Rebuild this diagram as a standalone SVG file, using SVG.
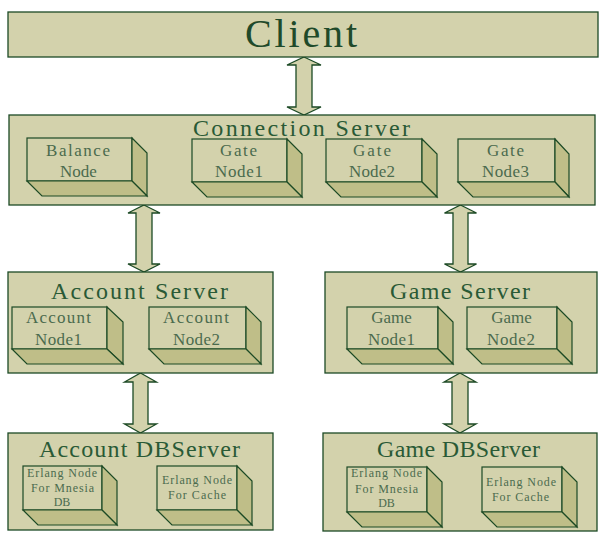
<svg xmlns="http://www.w3.org/2000/svg" width="607" height="547" viewBox="0 0 607 547">
<style>
.box{fill:#d3d2ac;stroke:#1c4a25;stroke-width:1.3}
.front{fill:#d3d2ac;stroke:#1c4a25;stroke-width:1.2}
.dark{fill:#bfbe88;stroke:#1c4a25;stroke-width:1.2;stroke-linejoin:miter}
.arrow{fill:#d3d2ac;stroke:#1c4a25;stroke-width:1.3}
text{font-family:"Liberation Serif","DejaVu Serif",serif;text-anchor:middle}
.big{font-size:40px;fill:#1f4a2a}
.title{font-size:24px;fill:#2a5a36}
.lbl{font-size:17px;fill:#4b6b4e}
.sm{font-size:12px;fill:#4b6b4e}
</style>
<rect width="607" height="547" fill="#ffffff"/>

<g id="connectors">
<polygon class="arrow" points="304,57 321,65 312,65 312,107 321,107 304,115 287,107 296,107 296,65 287,65"/>
<polygon class="arrow" points="144,205 160,213 152,213 152,264 160,264 144,272 128,264 136,264 136,213 128,213"/>
<polygon class="arrow" points="460.5,205 476.5,213 468,213 468,264 476.5,264 460.5,272 444.5,264 453,264 453,213 444.5,213"/>
<polygon class="arrow" points="140.5,373 156.5,382 148,382 148,424 156.5,424 140.5,433 124.5,424 133,424 133,382 124.5,382"/>
<polygon class="arrow" points="460,373 476,382 468,382 468,424 476,424 460,433 444,424 452,424 452,382 444,382"/>
</g>

<g id="client">
<rect class="box" x="8" y="12" width="590" height="45"/>
<text class="big" x="301" y="47" textLength="112" lengthAdjust="spacing">Client</text>
</g>

<g id="connection-server">
<rect class="box" x="9" y="115" width="586" height="90"/>
<text class="title" x="301.5" y="136" textLength="217" lengthAdjust="spacing">Connection Server</text>
</g>

<g id="balance-node">
<rect class="front" x="27" y="138" width="105" height="43"/>
<polygon class="dark" points="132,138 147,153 147,196 132,181"/>
<polygon class="dark" points="27,181 132,181 147,196 42,196"/>
<text class="lbl" x="78" y="156" textLength="64" lengthAdjust="spacing">Balance</text>
<text class="lbl" x="78.5" y="177">Node</text>
</g>

<g id="gate-node1">
<rect class="front" x="192" y="139" width="95" height="43"/>
<polygon class="dark" points="287,139 302,154 302,197 287,182"/>
<polygon class="dark" points="192,182 287,182 302,197 207,197"/>
<text class="lbl" x="238.5" y="156" textLength="37" lengthAdjust="spacing">Gate</text>
<text class="lbl" x="239" y="177" textLength="48" lengthAdjust="spacing">Node1</text>
</g>

<g id="gate-node2">
<rect class="front" x="326" y="139" width="96" height="43"/>
<polygon class="dark" points="422,139 437,154 437,197 422,182"/>
<polygon class="dark" points="326,182 422,182 437,197 341,197"/>
<text class="lbl" x="372" y="156" textLength="38" lengthAdjust="spacing">Gate</text>
<text class="lbl" x="372" y="177" textLength="46" lengthAdjust="spacing">Node2</text>
</g>

<g id="gate-node3">
<rect class="front" x="458" y="139" width="97" height="43"/>
<polygon class="dark" points="555,139 569,154 569,197 555,182"/>
<polygon class="dark" points="458,182 555,182 569,197 473,197"/>
<text class="lbl" x="505.5" y="156" textLength="37" lengthAdjust="spacing">Gate</text>
<text class="lbl" x="505.5" y="177" textLength="47" lengthAdjust="spacing">Node3</text>
</g>

<g id="account-server">
<rect class="box" x="8" y="272" width="265" height="101"/>
<text class="title" x="139.5" y="299" textLength="177" lengthAdjust="spacing">Account Server</text>
</g>

<g id="account-node1">
<rect class="front" x="12" y="307" width="95" height="42"/>
<polygon class="dark" points="107,307 123,322 123,364 107,349"/>
<polygon class="dark" points="12,349 107,349 123,364 27,364"/>
<text class="lbl" x="58.5" y="323" textLength="65" lengthAdjust="spacing">Account</text>
<text class="lbl" x="58.5" y="345" textLength="47" lengthAdjust="spacing">Node1</text>
</g>

<g id="account-node2">
<rect class="front" x="149" y="307" width="97" height="42"/>
<polygon class="dark" points="246,307 261,322 261,364 246,349"/>
<polygon class="dark" points="149,349 246,349 261,364 164,364"/>
<text class="lbl" x="196" y="323" textLength="66" lengthAdjust="spacing">Account</text>
<text class="lbl" x="196.5" y="345" textLength="47" lengthAdjust="spacing">Node2</text>
</g>

<g id="game-server">
<rect class="box" x="325" y="272" width="272" height="101"/>
<text class="title" x="460" y="299" textLength="140" lengthAdjust="spacing">Game Server</text>
</g>

<g id="game-node1">
<rect class="front" x="347" y="307" width="91" height="42"/>
<polygon class="dark" points="438,307 453,322 453,364 438,349"/>
<polygon class="dark" points="347,349 438,349 453,364 362,364"/>
<text class="lbl" x="391.5" y="323">Game</text>
<text class="lbl" x="391.5" y="345" textLength="47" lengthAdjust="spacing">Node1</text>
</g>

<g id="game-node2">
<rect class="front" x="467" y="307" width="90" height="42"/>
<polygon class="dark" points="557,307 572,322 572,364 557,349"/>
<polygon class="dark" points="467,349 557,349 572,364 482,364"/>
<text class="lbl" x="511.5" y="323">Game</text>
<text class="lbl" x="511" y="345" textLength="48" lengthAdjust="spacing">Node2</text>
</g>

<g id="account-dbserver">
<rect class="box" x="8" y="433" width="265" height="97"/>
<text class="title" x="139.5" y="457" textLength="201" lengthAdjust="spacing">Account DBServer</text>
</g>

<g id="account-mnesia-node">
<rect class="front" x="23" y="466" width="79" height="44"/>
<polygon class="dark" points="102,466 117,481 117,525 102,510"/>
<polygon class="dark" points="23,510 102,510 117,525 38,525"/>
<text class="sm" x="62" y="477" textLength="70" lengthAdjust="spacing">Erlang Node</text>
<text class="sm" x="62.5" y="492" textLength="63" lengthAdjust="spacing">For Mnesia</text>
<text class="sm" x="62" y="506">DB</text>
</g>

<g id="account-cache-node">
<rect class="front" x="157" y="466" width="80" height="44"/>
<polygon class="dark" points="237,466 252,481 252,525 237,510"/>
<polygon class="dark" points="157,510 237,510 252,525 172,525"/>
<text class="sm" x="197" y="484" textLength="70" lengthAdjust="spacing">Erlang Node</text>
<text class="sm" x="197" y="499" textLength="58" lengthAdjust="spacing">For Cache</text>
</g>

<g id="game-dbserver">
<rect class="box" x="323" y="433" width="274" height="98"/>
<text class="title" x="458.5" y="457" textLength="163" lengthAdjust="spacing">Game DBServer</text>
</g>

<g id="game-mnesia-node">
<rect class="front" x="347" y="467" width="80" height="45"/>
<polygon class="dark" points="427,467 442,482 442,527 427,512"/>
<polygon class="dark" points="347,512 427,512 442,527 362,527"/>
<text class="sm" x="386.5" y="477" textLength="71" lengthAdjust="spacing">Erlang Node</text>
<text class="sm" x="386.5" y="493" textLength="63" lengthAdjust="spacing">For Mnesia</text>
<text class="sm" x="386.5" y="507">DB</text>
</g>

<g id="game-cache-node">
<rect class="front" x="482" y="467" width="80" height="45"/>
<polygon class="dark" points="562,467 577,482 577,527 562,512"/>
<polygon class="dark" points="482,512 562,512 577,527 497,527"/>
<text class="sm" x="521" y="486" textLength="70" lengthAdjust="spacing">Erlang Node</text>
<text class="sm" x="520.5" y="501" textLength="57" lengthAdjust="spacing">For Cache</text>
</g>
</svg>
